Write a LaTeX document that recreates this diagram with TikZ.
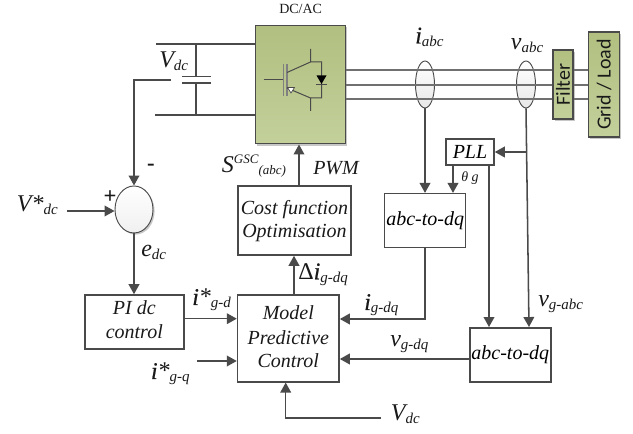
\documentclass[tikz,border=0pt]{standalone}
\usepackage{fontspec}
\setmainfont{Liberation Serif}
\newfontfamily\calfont{Carlito}
\newfontfamily\semifont{Liberation Serif}[ItalicFeatures={FakeBold=0.6}]
\usetikzlibrary{arrows.meta,shapes.geometric,shadows}
\newcommand{\mainsz}{\fontsize{18}{20}\selectfont\itshape}
\newcommand{\subsz}{\fontsize{11.25}{12}\selectfont\itshape}
\newcommand{\ml}[2]{{\mainsz #1}\raisebox{-2.25pt}{\subsz #2}}
\newcommand{\il}[2]{{\semifont\mainsz #1}\raisebox{-2.25pt}{\subsz #2}}
\definecolor{ln}{HTML}{4A4A4A}
\definecolor{bus}{HTML}{707070}
\definecolor{gtop}{HTML}{B1BF80}
\definecolor{gbot}{HTML}{C3D09B}
\tikzset{
  x=0.75pt,y=-0.75pt,
  wire/.style={draw=ln,line width=1.15pt},
  thinw/.style={draw=ln,line width=0.8pt},
  arr/.style={wire,-{Triangle[length=7.5pt,width=8pt]}},
  blockbox/.style={draw=ln,line width=1.15pt,fill=white,inner sep=0pt,align=center,
    font=\fontsize{15}{18}\selectfont\itshape},
  sz/.style 2 args={minimum width=#1*0.75pt,minimum height=#2*0.75pt},
  softshadow/.style={drop shadow={shadow xshift=1.2pt,shadow yshift=-1.2pt,opacity=.22,fill=black}},
  greenbox/.style={draw=ln,line width=0.8pt,top color=gtop,bottom color=gbot,inner sep=0pt,softshadow},
  lab/.style={anchor=base west,inner sep=0pt,text=black!90},
  oval/.style={ellipse,draw=ln,line width=0.7pt,top color=white,bottom color=black!9,
    minimum width=19*0.75pt,minimum height=47*0.75pt,inner sep=0pt},
  rotlab/.style={rotate=90,font=\calfont\fontsize{15}{18}\selectfont,text=black!90},
  btext/.style={anchor=base,inner sep=0pt,font=\fontsize{15}{18}\selectfont\itshape,text=black!90},
}
\begin{document}
\begin{tikzpicture}
\useasboundingbox (0,0) rectangle (633,434);
% power blocks
\node[greenbox,sz={90}{118.5}] (inv) at (300.5,84.7) {};
\node[greenbox,sz={20}{69}] (filter) at (563,84.5) {};
\node[greenbox,sz={31}{105}] (grid) at (604,84.5) {};
\node[rotlab] (filtertxt) at (563,84.5) {Filter};
\node[rotlab] (gridtxt) at (604,84.5) {Grid / Load};
\node[oval] (ia) at (425,84.5) {};
\node[oval] (va) at (526,84.5) {};
% three-phase bus
\coordinate (b1) at (400,70); \coordinate (b2) at (400,85); \coordinate (b3) at (400,99);
\foreach \b in {b1,b2,b3}{
  \draw[draw=bus,line width=0.9pt] (inv.east |- \b) -- (filter.west |- \b);
  \draw[draw=bus,line width=0.9pt] (filter.east |- \b) -- (grid.west |- \b);
}
% IGBT
\draw[draw=ln,line width=0.75pt] (263.5,80) -- (283.5,80);
\draw[draw=ln!70,line width=0.8pt] (283.5,64) -- (283.5,96) (287,64) -- (287,96);
\draw[draw=ln,line width=0.75pt] (287,72.5) -- (310.5,62) (310.5,49) -- (310.5,62) -- (321.5,62) -- (321.5,98) -- (310.5,98) -- (310.5,111) (310.5,98) -- (287,88);
\fill[white,draw=ln,line width=0.5pt] (287.5,87.5) -- (294.5,87.5) -- (291,93) -- cycle;
\fill[black] (316.5,75.5) -- (326.5,75.5) -- (321.5,84) -- cycle;
\draw[draw=ln,line width=0.8pt] (316,84.5) -- (327,84.5);
% DC link
\coordinate (dctop) at (156,44); \coordinate (dcbot) at (155,115);
\coordinate (capt) at (196,76.5); \coordinate (capb) at (196,83);
\draw[wire] (dctop) -- (inv.west |- dctop);
\draw[wire] (dcbot) -- (inv.west |- dcbot);
\draw[thinw] (196,44) -- (capt) (capb) -- (196,115);
\draw[thinw] (182,76.5) -- (211,76.5) (182,83) -- (211,83);
% control blocks
\node[ellipse,draw=ln,line width=0.7pt,top color=white,bottom color=black!6,inner sep=0pt,
  sz={38}{47},softshadow] (sum) at (134,209.5) {};
\node[blockbox,sz={99}{54}] (pi) at (134.3,322) {};
\node[blockbox,sz={101.5}{87}] (mpc) at (288.3,338.3) {};
\node[blockbox,sz={113.5}{69}] (cost) at (294.5,220.5) {};
\node[blockbox,sz={81}{54}] (dq1) at (425.2,220.7) {abc-to-dq};
\node[blockbox,sz={81}{54}] (dq2) at (510.3,354.8) {abc-to-dq};
\node[blockbox,sz={48}{26}] (pll) at (470,152) {PLL};
% block text
\node[btext] (pi1) at (134.3,315) {PI dc};
\node[btext] (pi2) at (134.3,339) {control};
\node[btext] (c1) at (294.5,215) {Cost function};
\node[btext] (c2) at (294.5,238) {Optimisation};
\node[btext] (m1) at (288.3,320) {Model};
\node[btext] (m2) at (288.3,345) {Predictive};
\node[btext] (m3) at (288.3,368) {Control};
% connector end points
\coordinate (vdcfeed) at (171,80);
\coordinate (vstarin) at (67,211);
\coordinate (iqin) at (197,361);
\coordinate (vdcin) at (381,418);
\coordinate (vtap) at (526,152);
% connectors
\draw[arr] (vdcfeed) -- (134,80) -- (sum.north);
\draw[arr] (vstarin) -- (sum.west |- vstarin);
\draw[arr] (sum.south) -- (pi.north -| sum.south);
\draw[arr] (pi.east |- 0,318.7) -- (mpc.west |- 0,318.7);
\draw[arr] (iqin) -- (mpc.west |- iqin);
\draw[arr] (vdcin) -- (285.7,418) -- (mpc.south -| 285.7,418);
\draw[arr] (mpc.north -| 294,0) -- (cost.south -| 294,0);
\draw[arr] (cost.north -| 299,0) -- (inv.south -| 299,0);
\draw[arr] (ia.south) -- (dq1.north -| ia.south);
\draw[arr] (pll.south -| 453,0) -- (dq1.north -| 453,0);
\draw[arr] (va.south) -- (dq2.north -| 529,0);
\draw[arr] (vtap) -- (pll.east |- vtap);
\draw[arr] (pll.south -| 489,0) -- (dq2.north -| 489,0);
\draw[arr] (dq1.south) -- (425.2,319) -- (mpc.east |- 0,319);
\draw[arr] (dq2.west |- 0,359) -- (mpc.east |- 0,359);
% labels
\node[lab,font=\fontsize{10.5}{12}\selectfont] (tdcac) at (279,14) {DC/AC};
\node[lab] (tvdc) at (159,68) {\ml{V}{dc}};
\node[lab] (tiabc) at (415,43.5) {\il{i}{abc}};
\node[lab] (tvabc) at (510.7,49.5) {\ml{v}{abc}};
\node[lab,font=\fontsize{10.5}{12}\selectfont\itshape] (ttheta) at (461,181.6) {θ g};
\node[lab] (ts) at (221.7,173) {{\mainsz S}\raisebox{7pt}{\fontsize{9.75}{11}\selectfont\itshape GSC}\raisebox{-1.5pt}{\fontsize{9.75}{11}\selectfont\itshape (abc)}};
\node[lab,font=\fontsize{15}{18}\selectfont\itshape] (tpwm) at (313,175) {PWM};
\node[lab] (tdelta) at (298,279.3) {{\fontsize{18}{20}\selectfont Δ}\il{i}{g-dq}};
\node[lab] (tid) at (192,305) {{\semifont\mainsz i}{\mainsz *}\raisebox{-2.25pt}{\subsz g-d}};
\node[lab] (tiq) at (150.7,379) {{\semifont\mainsz i}{\mainsz *}\raisebox{-2.25pt}{\subsz g-q}};
\node[lab] (tig) at (364,310) {\il{i}{g-dq}};
\node[lab] (tvg) at (390,347) {\ml{v}{g-dq}};
\node[lab] (tvgabc) at (538,306.7) {\ml{v}{g-abc}};
\node[lab] (tvdc2) at (390.7,421) {\ml{V}{dc}};
\node[lab] (tvstar) at (16.7,211.7) {{\mainsz V*}\raisebox{-2.25pt}{\subsz dc}};
\node[lab] (tedc) at (141,256.7) {\ml{e}{dc}};
\node[inner sep=0pt,font=\fontsize{17}{17}\selectfont\bfseries,text=black!90] (tplus) at (110,197) {+};
\node[inner sep=0pt,font=\fontsize{17}{17}\selectfont\bfseries,text=black!90] (tminus) at (151,167) {-};
\end{tikzpicture}
\end{document}
